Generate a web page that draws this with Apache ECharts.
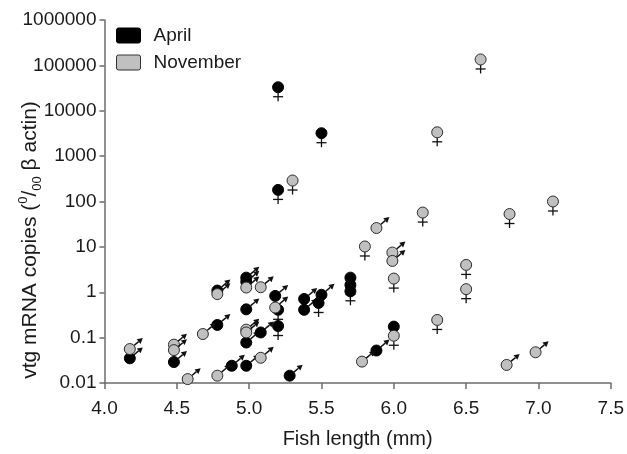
<!DOCTYPE html>
<html>
<head>
<meta charset="utf-8">
<script src="https://cdn.jsdelivr.net/npm/echarts@6/dist/echarts.min.js"></script>
<style>
html,body{margin:0;padding:0;background:#fff;}
#chart{width:627px;height:454px;}
</style>
</head>
<body>
<div id="chart"></div>
<script>
// ---- data: [fish length (mm), vtg mRNA copies] ----
const aprilMale = [
  [4.175, 0.035], [4.48, 0.029], [4.78, 0.19], [4.78, 1.09], [4.88, 0.024],
  [4.98, 2.1], [4.98, 1.7], [4.98, 0.42], [4.98, 0.078], [4.98, 0.024],
  [5.08, 0.13], [5.18, 0.83], [5.28, 0.0145], [5.38, 0.71], [5.38, 0.41],
  [5.5, 0.88], [5.88, 0.052]
];
const aprilFemale = [
  [5.2, 33000], [5.2, 180], [5.5, 3200], [5.2, 0.41], [5.2, 0.18],
  [5.48, 0.58], [5.7, 2.1], [5.7, 1.45], [5.7, 1.05], [6.0, 0.175]
];
const novMale = [
  [4.175, 0.056], [4.48, 0.07], [4.48, 0.053], [4.575, 0.0122], [4.68, 0.12],
  [4.78, 0.91], [4.78, 0.0145], [4.98, 1.27], [4.98, 0.15], [4.98, 0.13],
  [5.08, 1.29], [5.08, 0.036], [5.18, 0.46], [5.78, 0.0296], [5.88, 26],
  [5.99, 7.5], [5.99, 4.9], [6.78, 0.025], [6.98, 0.0476]
];
const novFemale = [
  [5.3, 290], [5.8, 10.2], [6.0, 2.0], [6.0, 0.11], [6.2, 57],
  [6.3, 3350], [6.3, 0.245], [6.5, 4.0], [6.5, 1.17], [6.6, 135000],
  [6.8, 53], [7.1, 100]
];
const seriesNames = ['April', 'November'];
const yTickLabels = ['0.01', '0.1', '1', '10', '100', '1000', '10000', '100000', '1000000'];
const xTickLabels = ['4.0', '4.5', '5.0', '5.5', '6.0', '6.5', '7.0', '7.5'];

const FONT = "'Liberation Sans', Arial, Helvetica, sans-serif";
const COLORS = { April: '#000000', November: '#c0c0c0' };
const R = 5.5;

function makeRender(fill, male) {
  return function (params, api) {
    const p = api.coord([api.value(0), api.value(1)]);
    const cx = p[0], cy = p[1];
    const children = [];
    const ink = '#111';
    if (male) {
      const a = 40 * Math.PI / 180;
      const dx = Math.cos(a), dy = -Math.sin(a);
      const L = 17, head = 5.5, hw = 3;
      const bx = cx + dx * (L - head), by = cy + dy * (L - head);
      children.push({
        type: 'line',
        shape: { x1: cx + dx * R, y1: cy + dy * R, x2: bx, y2: by },
        style: { stroke: ink, lineWidth: 1.5 }
      });
      children.push({
        type: 'polygon',
        shape: { points: [
          [cx + dx * L, cy + dy * L],
          [bx - dy * hw, by + dx * hw],
          [bx + dy * hw, by - dx * hw]
        ] },
        style: { fill: ink }
      });
    } else {
      children.push({
        type: 'line',
        shape: { x1: cx, y1: cy + R, x2: cx, y2: cy + R + 8.5 },
        style: { stroke: ink, lineWidth: 1.3 }
      });
      children.push({
        type: 'line',
        shape: { x1: cx - 5, y1: cy + R + 4, x2: cx + 5, y2: cy + R + 4 },
        style: { stroke: ink, lineWidth: 1.3 }
      });
    }
    children.push({
      type: 'circle',
      shape: { cx: cx, cy: cy, r: R },
      style: { fill: fill, stroke: fill === '#000000' ? '#000' : '#2b2b2b', lineWidth: 1 }
    });
    return { type: 'group', children: children };
  };
}

function mkSeries(name, data, male) {
  return {
    name: name,
    type: 'custom',
    coordinateSystem: 'cartesian2d',
    renderItem: makeRender(COLORS[name], male),
    itemStyle: { color: COLORS[name] },
    encode: { x: 0, y: 1 },
    clip: false,
    silent: true,
    data: data
  };
}

const legendIcon = 'path://M2,0 H22 Q24,0 24,2 V13 Q24,15 22,15 H2 Q0,15 0,13 V2 Q0,0 2,0 Z';

const chart = echarts.init(document.getElementById('chart'), null, { renderer: 'canvas' });
chart.setOption({
  animation: false,
  backgroundColor: '#ffffff',
  textStyle: { fontFamily: FONT },
  grid: { left: 104.5, right: 12, top: 20, bottom: 71, containLabel: false },
  legend: {
    orient: 'vertical',
    left: 111, top: 21,
    padding: 5,
    itemWidth: 24, itemHeight: 15, itemGap: 8,
    icon: legendIcon,
    selectedMode: false,
    textStyle: { fontFamily: FONT, fontSize: 19, color: '#1a1a1a', padding: [0, 0, 0, 8] },
    data: [
      { name: seriesNames[0], itemStyle: { color: '#000000', borderColor: '#000', borderWidth: 1 } },
      { name: seriesNames[1], itemStyle: { color: '#c0c0c0', borderColor: '#333', borderWidth: 1 } }
    ]
  },
  xAxis: {
    type: 'value',
    min: 4, max: 7.5, interval: 0.5,
    name: 'Fish length (mm)',
    nameLocation: 'middle',
    nameGap: 46,
    nameTextStyle: { fontFamily: FONT, fontSize: 20, color: '#1a1a1a' },
    axisLine: { show: true, onZero: false, lineStyle: { color: '#6b6b6b', width: 1.5 } },
    axisTick: { show: true, length: 6, lineStyle: { color: '#6b6b6b', width: 1.5 } },
    axisLabel: {
      margin: 16, fontFamily: FONT, fontSize: 19, color: '#1a1a1a',
      formatter: function (v) { return xTickLabels[Math.round((v - 4) / 0.5)]; }
    },
    splitLine: { show: false }
  },
  yAxis: {
    type: 'log',
    logBase: 10,
    min: 0.01, max: 1000000,
    interval: 1,
    axisLine: { show: true, lineStyle: { color: '#6b6b6b', width: 1.5 } },
    axisTick: { show: true, length: 5, lineStyle: { color: '#6b6b6b', width: 1.5 } },
    axisLabel: {
      margin: 8, fontFamily: FONT, fontSize: 19, color: '#1a1a1a',
      formatter: function (v) { return yTickLabels[Math.round(Math.log10(v)) + 2]; }
    },
    splitLine: { show: false }
  },
  graphic: [{
    type: 'text',
    x: 30, y: 240,
    rotation: Math.PI / 2,
    style: {
      text: 'vtg mRNA copies ({sup|0}/{sub|00} β actin)',
      fontFamily: FONT,
      fontSize: 21,
      fill: '#1a1a1a',
      align: 'center',
      verticalAlign: 'middle',
      lineHeight: 27,
      rich: {
        sup: { fontSize: 13, fontFamily: FONT, fill: '#1a1a1a', verticalAlign: 'top', lineHeight: 27 },
        sub: { fontSize: 13, fontFamily: FONT, fill: '#1a1a1a', verticalAlign: 'bottom', lineHeight: 27 }
      }
    }
  }],
  series: [
    mkSeries('April', aprilMale, true),
    mkSeries('April', aprilFemale, false),
    mkSeries('November', novMale, true),
    mkSeries('November', novFemale, false)
  ]
});
</script>
</body>
</html>
